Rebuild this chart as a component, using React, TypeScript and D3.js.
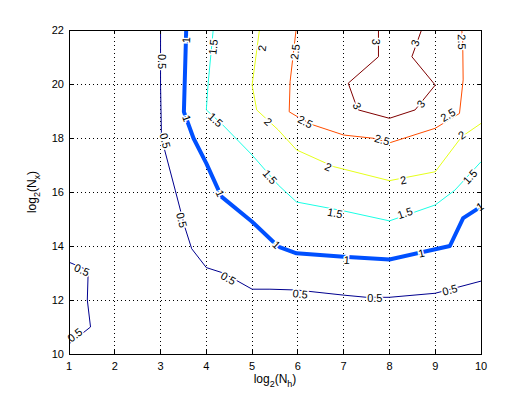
import React, { useEffect, useRef } from 'react'
import * as d3 from 'd3'

// contour levels and their colours (jet-like)
const levels = [0.5, 1, 1.5, 2, 2.5, 3]
const levelColors = ['#00008f', '#0050ff', '#1affe6', '#e6ff1a', '#ff4d00', '#800000']

// contour lines, in data coords [log2(Nh), log2(Nx)]
const line05a: [number, number][] = [
  [3.0, 22], [3.0, 20.0], [3.02, 18.0], [3.32, 16.07], [3.53, 14.7], [3.68, 13.9],
  [4.0, 13.2], [4.37, 13.0], [5.0, 12.4], [5.39, 12.4], [5.97, 12.37], [7.0, 12.18],
  [7.5, 12.1], [8.0, 12.1], [9.0, 12.25], [10, 12.7],
]
const line05b: [number, number][] = [
  [1.0, 13.4], [1.42, 13.1], [1.4, 12.0], [1.47, 11.0], [1.02, 10.4],
]
const line10: [number, number][] = [
  [3.56, 22], [3.51, 18.97], [3.72, 17.99], [4.0, 17.06], [4.33, 15.83], [5.0, 14.9],
  [5.57, 13.98], [5.97, 13.73], [7.0, 13.6], [8.0, 13.5], [9.0, 13.88], [9.32, 14.0],
  [9.61, 15.03], [10, 15.46],
]
const line15: [number, number][] = [
  [4.15, 22], [4.04, 20.03], [4.0, 19.04], [4.35, 18.5], [5.0, 17.37], [5.57, 16.26],
  [5.97, 15.63], [7.0, 15.3], [8.0, 14.93], [9.0, 15.52], [9.43, 16.07], [10, 17.12],
]
const line20: [number, number][] = [
  [5.16, 22], [5.0, 19.96], [5.1, 19.04], [5.57, 18.3], [5.97, 17.56], [6.78, 16.94],
  [8.0, 16.42], [9.0, 16.75], [9.58, 18.05], [10, 18.54],
]
const line25: [number, number][] = [
  [5.96, 22], [5.83, 20.09], [5.81, 18.97], [6.05, 18.73], [6.34, 18.48], [7.0, 18.11],
  [7.65, 17.99], [8.0, 17.82], [9.0, 18.36], [9.53, 18.91], [9.61, 20.15], [9.6, 21.63],
  [9.58, 22],
]
const line30: [number, number][] = [
  [7.76, 22], [7.76, 21.01], [7.1, 20.03], [7.27, 19.22], [7.32, 19.04], [8.0, 18.73],
  [8.56, 19.04], [9.0, 19.96], [8.49, 21.01], [8.7, 22],
]

const contourLines = [
  { level: 0.5, pts: line05a },
  { level: 0.5, pts: line05b },
  { level: 1, pts: line10 },
  { level: 1.5, pts: line15 },
  { level: 2, pts: line20 },
  { level: 2.5, pts: line25 },
  { level: 3, pts: line30 },
]

// inline label positions per level
const labels05: [number, number][] = [
  [3.02, 20.83], [3.1, 17.9], [3.46, 14.96], [4.48, 12.8], [6.05, 12.22], [7.68, 12.06],
  [9.32, 12.37], [1.28, 13.11], [1.13, 10.7],
]
const labels10: [number, number][] = [
  [3.56, 21.63], [3.57, 18.73], [4.3, 15.95], [5.53, 14.04], [7.07, 13.48], [8.7, 13.73], [9.98, 15.46],
]
const labels15: [number, number][] = [
  [4.15, 21.37], [4.2, 18.67], [5.39, 16.56], [6.81, 15.22], [8.34, 15.22], [9.76, 16.56],
]
const labels20: [number, number][] = [
  [5.22, 21.33], [5.35, 18.6], [6.66, 16.93], [8.3, 16.44], [9.58, 18.11],
]
const labels25: [number, number][] = [
  [5.94, 21.19], [6.16, 18.6], [7.84, 17.93], [9.28, 18.85], [9.58, 21.56],
]
const labels30: [number, number][] = [
  [7.71, 21.56], [7.29, 19.19], [8.69, 19.26], [8.56, 21.52],
]
const labelSets = [
  { level: 0.5, text: '0.5', pts: labels05 },
  { level: 1, text: '1', pts: labels10 },
  { level: 1.5, text: '1.5', pts: labels15 },
  { level: 2, text: '2', pts: labels20 },
  { level: 2.5, text: '2.5', pts: labels25 },
  { level: 3, text: '3', pts: labels30 },
]

const xTicks = [1, 2, 3, 4, 5, 6, 7, 8, 9, 10]
const yTicks = [10, 12, 14, 16, 18, 20, 22]

const App = () => {
  const ref = useRef<SVGSVGElement | null>(null)

  useEffect(() => {
    const W = 532
    const H = 399
    const m = { left: 69, right: 51, top: 30, bottom: 45 }
    const svg = d3.select(ref.current)
    svg.selectAll('*').remove()
    svg.attr('width', W).attr('height', H)
    svg.append('rect').attr('width', W).attr('height', H).attr('fill', '#fff')

    const x = d3.scaleLinear().domain([1, 10]).range([m.left, W - m.right])
    const y = d3.scaleLinear().domain([10, 22]).range([H - m.bottom, m.top])
    const color = d3.scaleOrdinal<number, string>().domain(levels).range(levelColors)
    const font = 'Helvetica, Arial, "Liberation Sans", sans-serif'

    // grid
    const grid = svg.append('g').attr('stroke', '#000').attr('stroke-width', 1)
      .attr('stroke-dasharray', '1,3').attr('shape-rendering', 'crispEdges')
    xTicks.slice(1, -1).forEach(t => {
      grid.append('line').attr('x1', x(t)).attr('x2', x(t)).attr('y1', y(10)).attr('y2', y(22))
    })
    yTicks.slice(1, -1).forEach(t => {
      grid.append('line').attr('x1', x(1)).attr('x2', x(10)).attr('y1', y(t)).attr('y2', y(t))
    })

    // contours
    const line = d3.line<[number, number]>().x(d => x(d[0])).y(d => y(d[1]))
    contourLines.forEach(c => {
      svg.append('path')
        .attr('d', line(c.pts))
        .attr('fill', 'none')
        .attr('stroke', color(c.level))
        .attr('stroke-width', c.level === 1 ? 4 : 1)
        .attr('stroke-linejoin', 'round')
    })

    // labels, rotated along the nearest segment
    const angleAt = (level: number, p: [number, number]) => {
      let best = Infinity
      let ang = 0
      contourLines.filter(c => c.level === level).forEach(c => {
        for (let i = 0; i < c.pts.length - 1; i++) {
          const ax = x(c.pts[i][0]), ay = y(c.pts[i][1])
          const bx = x(c.pts[i + 1][0]), by = y(c.pts[i + 1][1])
          const px = x(p[0]), py = y(p[1])
          const dx = bx - ax, dy = by - ay
          const t = Math.max(0, Math.min(1, ((px - ax) * dx + (py - ay) * dy) / (dx * dx + dy * dy)))
          const d = Math.hypot(ax + t * dx - px, ay + t * dy - py)
          if (d < best) {
            best = d
            ang = (Math.atan2(dy, dx) * 180) / Math.PI
          }
        }
      })
      if (ang > 90) ang -= 180
      if (ang < -90) ang += 180
      return ang
    }
    labelSets.forEach(s => {
      s.pts.forEach(p => {
        svg.append('text')
          .attr('transform', `translate(${x(p[0])},${y(p[1])}) rotate(${angleAt(s.level, p)})`)
          .attr('text-anchor', 'middle')
          .attr('dy', '0.35em')
          .attr('font-family', font)
          .attr('font-size', 11)
          .attr('fill', '#000')
          .attr('stroke', '#fff')
          .attr('stroke-width', 3)
          .attr('paint-order', 'stroke')
          .text(s.text)
      })
    })

    // box and ticks
    svg.append('rect')
      .attr('x', x(1)).attr('y', y(22)).attr('width', x(10) - x(1)).attr('height', y(10) - y(22))
      .attr('fill', 'none').attr('stroke', '#000').attr('shape-rendering', 'crispEdges')
    const tk = svg.append('g').attr('stroke', '#000').attr('shape-rendering', 'crispEdges')
    xTicks.forEach(t => {
      tk.append('line').attr('x1', x(t)).attr('x2', x(t)).attr('y1', y(10)).attr('y2', y(10) - 4)
      tk.append('line').attr('x1', x(t)).attr('x2', x(t)).attr('y1', y(22)).attr('y2', y(22) + 4)
    })
    yTicks.forEach(t => {
      tk.append('line').attr('x1', x(1)).attr('x2', x(1) + 4).attr('y1', y(t)).attr('y2', y(t))
      tk.append('line').attr('x1', x(10)).attr('x2', x(10) - 4).attr('y1', y(t)).attr('y2', y(t))
    })

    svg.append('g').selectAll('text').data(xTicks).enter().append('text')
      .attr('x', d => x(d)).attr('y', y(10) + 16)
      .attr('text-anchor', 'middle').attr('font-family', font).attr('font-size', 11)
      .text(d => d)
    svg.append('g').selectAll('text').data(yTicks).enter().append('text')
      .attr('x', x(1) - 5).attr('y', d => y(d)).attr('dy', '0.35em')
      .attr('text-anchor', 'end').attr('font-family', font).attr('font-size', 11)
      .text(d => d)

    // axis titles
    const xt = svg.append('text')
      .attr('x', (x(1) + x(10)) / 2).attr('y', y(10) + 29)
      .attr('text-anchor', 'middle').attr('font-family', font).attr('font-size', 12)
    xt.append('tspan').text('log')
    xt.append('tspan').attr('font-size', 9).attr('dy', 4).text('2')
    xt.append('tspan').attr('dy', -4).text('(N')
    xt.append('tspan').attr('font-size', 9).attr('dy', 4).text('h')
    xt.append('tspan').attr('dy', -4).text(')')

    const yt = svg.append('text')
      .attr('transform', `translate(36,${(y(10) + y(22)) / 2}) rotate(-90)`)
      .attr('text-anchor', 'middle').attr('font-family', font).attr('font-size', 12)
    yt.append('tspan').text('log')
    yt.append('tspan').attr('font-size', 9).attr('dy', 4).text('2')
    yt.append('tspan').attr('dy', -4).text('(N')
    yt.append('tspan').attr('font-size', 9).attr('dy', 4).text('x')
    yt.append('tspan').attr('dy', -4).text(')')
  }, [])

  return <svg ref={ref} style={{ position: 'absolute', left: 0, top: 0 }} />
}

export default App
